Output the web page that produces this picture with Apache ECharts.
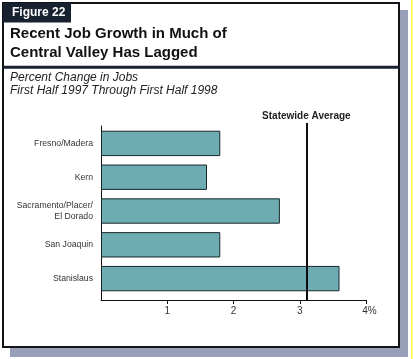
<!DOCTYPE html>
<html>
<head>
<meta charset="utf-8">
<script src="https://cdn.jsdelivr.net/npm/echarts@6/dist/echarts.min.js"></script>
<style>html,body{margin:0;padding:0;background:#fff}#c{width:413px;height:359px}</style>
</head>
<body>
<div id="c"></div>
<script>
var categories = ['Fresno/Madera', 'Kern', 'Sacramento/Placer/\nEl Dorado', 'San Joaquin', 'Stanislaus'];
var jobGrowth = [1.8, 1.6, 2.7, 1.8, 3.6];
var statewideAverage = 3.1;
var xTicks = [1, 2, 3, 4];

var FONT = '"Liberation Sans", Arial, Helvetica, sans-serif';
var chart = echarts.init(document.getElementById('c'), null, {renderer: 'canvas'});
var gx = {left: 101, width: 265};
chart.setOption({
  animation: false,
  backgroundColor: '#ffffff',
  textStyle: {fontFamily: FONT},
  graphic: [
    {type: 'rect', shape: {x: 411, y: 0, width: 1.5, height: 359}, style: {fill: '#ffff33'}, z: -10},
    {type: 'rect', shape: {x: 10, y: 10, width: 398, height: 347}, style: {fill: '#97a0b8'}, z: -10},
    {type: 'rect', shape: {x: 3, y: 3, width: 396, height: 344}, style: {fill: '#ffffff', stroke: '#111318', lineWidth: 2}, z: -9},
    {type: 'rect', shape: {x: 3, y: 3, width: 68, height: 19.5}, style: {fill: '#182130'}, z: -8},
    {type: 'rect', shape: {x: 3, y: 65.8, width: 397, height: 3}, style: {fill: '#182130'}, z: -8},
    {type: 'text', x: 12, y: 13, style: {text: 'Figure 22', fill: '#ffffff', font: 'bold 12px ' + FONT, textVerticalAlign: 'middle'}},
    {type: 'text', x: 10, y: 34, style: {text: 'Recent Job Growth in Much of', fill: '#111111', font: 'bold 15px ' + FONT, textVerticalAlign: 'middle'}},
    {type: 'text', x: 10, y: 53, style: {text: 'Central Valley Has Lagged', fill: '#111111', font: 'bold 15px ' + FONT, textVerticalAlign: 'middle'}},
    {type: 'text', x: 10, y: 78, style: {text: 'Percent Change in Jobs', fill: '#222222', font: 'italic 12px ' + FONT, textVerticalAlign: 'middle'}},
    {type: 'text', x: 10, y: 90.5, style: {text: 'First Half 1997 Through First Half 1998', fill: '#222222', font: 'italic 12px ' + FONT, textVerticalAlign: 'middle'}}
  ],
  grid: [
    {left: gx.left, width: gx.width, top: 126, height: 174},
    {left: gx.left, width: gx.width, top: 126.5, height: 169},
    {left: gx.left, width: gx.width, top: 123, height: 177}
  ],
  xAxis: [
    {gridIndex: 0, type: 'value', min: 0, max: 4, interval: 1,
     axisLine: {show: true, lineStyle: {color: '#111', width: 1}},
     axisTick: {show: true, length: 4, customValues: xTicks, lineStyle: {color: '#111'}},
     splitLine: {show: false},
     axisLabel: {color: '#333', fontSize: 10, margin: 6, fontFamily: FONT, customValues: xTicks,
       formatter: function (v) { return v === 4 ? '{p|4%}' : String(v); },
       rich: {p: {padding: [0, 0, 0, 7], fontSize: 10, color: '#333', fontFamily: FONT}}}},
    {gridIndex: 1, type: 'value', min: 0, max: 4, show: false},
    {gridIndex: 2, type: 'value', min: 0, max: 4, show: false}
  ],
  yAxis: [
    {gridIndex: 0, type: 'value', min: 0, max: 1,
     axisLine: {show: true, lineStyle: {color: '#111', width: 1}},
     axisTick: {show: false}, axisLabel: {show: false}, splitLine: {show: false}},
    {gridIndex: 1, type: 'category', data: categories, inverse: true,
     axisLine: {show: false}, axisTick: {show: false},
     axisLabel: {color: '#333', fontSize: 8.7, margin: 8, lineHeight: 11, fontFamily: FONT}},
    {gridIndex: 2, type: 'value', min: 0, max: 1, show: false}
  ],
  series: [
    {type: 'bar', xAxisIndex: 1, yAxisIndex: 1, data: jobGrowth, barWidth: '75%',
     itemStyle: {color: '#6eacb2', borderColor: '#17262c', borderWidth: 1}, z: 2},
    {type: 'scatter', xAxisIndex: 2, yAxisIndex: 2, data: [], z: 5,
     markLine: {silent: true, symbol: 'none', animation: false,
       lineStyle: {color: '#0d0f14', width: 2, type: 'solid'},
       label: {show: true, position: 'end', formatter: 'Statewide Average', color: '#222',
               fontWeight: 'bold', fontSize: 10, distance: 2, fontFamily: FONT},
       data: [{xAxis: statewideAverage}]}}
  ]
});
</script>
</body>
</html>
